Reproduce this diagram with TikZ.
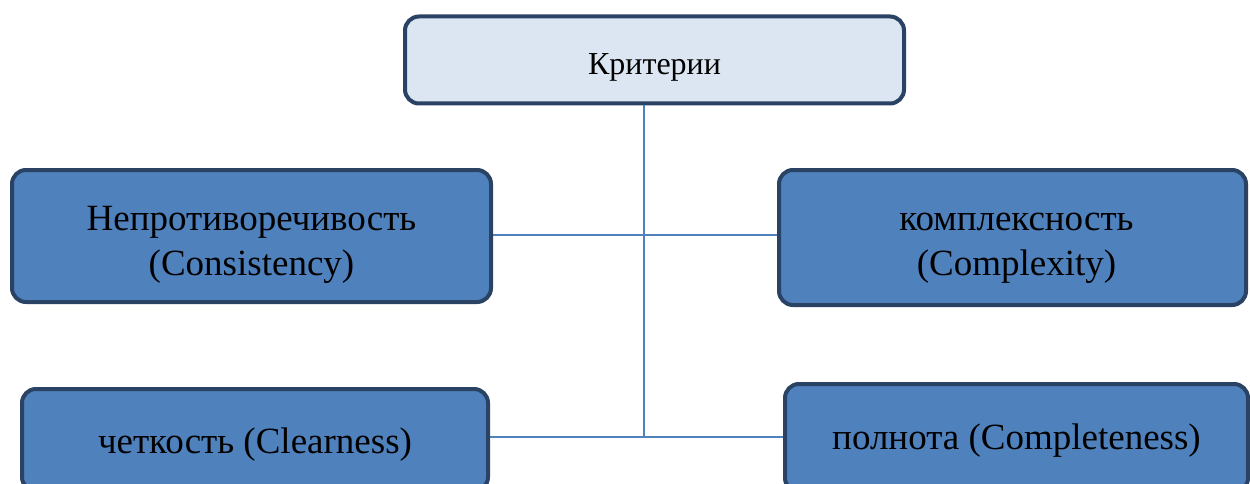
\documentclass[tikz,border=0pt]{standalone}
\usepackage{fontspec}
\setmainfont{Liberation Serif}
\definecolor{boxfill}{HTML}{4F81BD}
\definecolor{topfill}{HTML}{DCE6F2}
\definecolor{boxline}{HTML}{2A4365}
\definecolor{conn}{HTML}{4F81BD}
\newcommand{\lowered}[2]{\raisebox{-#1}[\height][\depth]{\begin{tabular}{@{}c@{}}#2\end{tabular}}}
\tikzset{
  crit/.style={draw=boxline, line width=4pt, rounded corners=14pt, inner sep=0pt,
    align=center, text=black},
  mainbox/.style={crit, fill=topfill, font=\fontsize{32}{38}\selectfont},
  subbox/.style={crit, fill=boxfill, font=\fontsize{37}{45}\selectfont},
  link/.style={draw=conn, line width=1.5pt}
}
\begin{document}
\begin{tikzpicture}[x=1pt,y=-1pt]
\useasboundingbox (0,0) rectangle (1250,484);
\clip (0,0) rectangle (1250,484);
\fill[white] (0,0) rectangle (1250,484);
\node[mainbox, minimum width=499pt, minimum height=87pt] (top) at (654.5,60) {\lowered{7pt}{Критерии}};
\node[subbox, minimum width=479pt, minimum height=132pt] (cons) at (251.5,236) {\lowered{8pt}{Непротиворечивость\\(Consistency)}};
\node[subbox, minimum width=467pt, minimum height=135pt] (compx) at (1012.5,237.5) {\lowered{6pt}{\hspace*{8pt}комплексность\\\hspace*{8pt}(Complexity)}};
\node[subbox, minimum width=466pt, minimum height=102pt] (clear) at (255,440) {\lowered{4pt}{четкость (Clearness)}};
\node[subbox, minimum width=463pt, minimum height=108pt] (compl) at (1016.5,438) {\lowered{2pt}{полнота (Completeness)}};
\coordinate (j1) at (644,235);
\coordinate (j2) at (644,437);
\draw[link] (top.south -| j1) -- (j2);
\draw[link] (cons.east |- j1) -- (compx.west |- j1);
\draw[link] (clear.east |- j2) -- (compl.west |- j2);
\end{tikzpicture}
\end{document}
